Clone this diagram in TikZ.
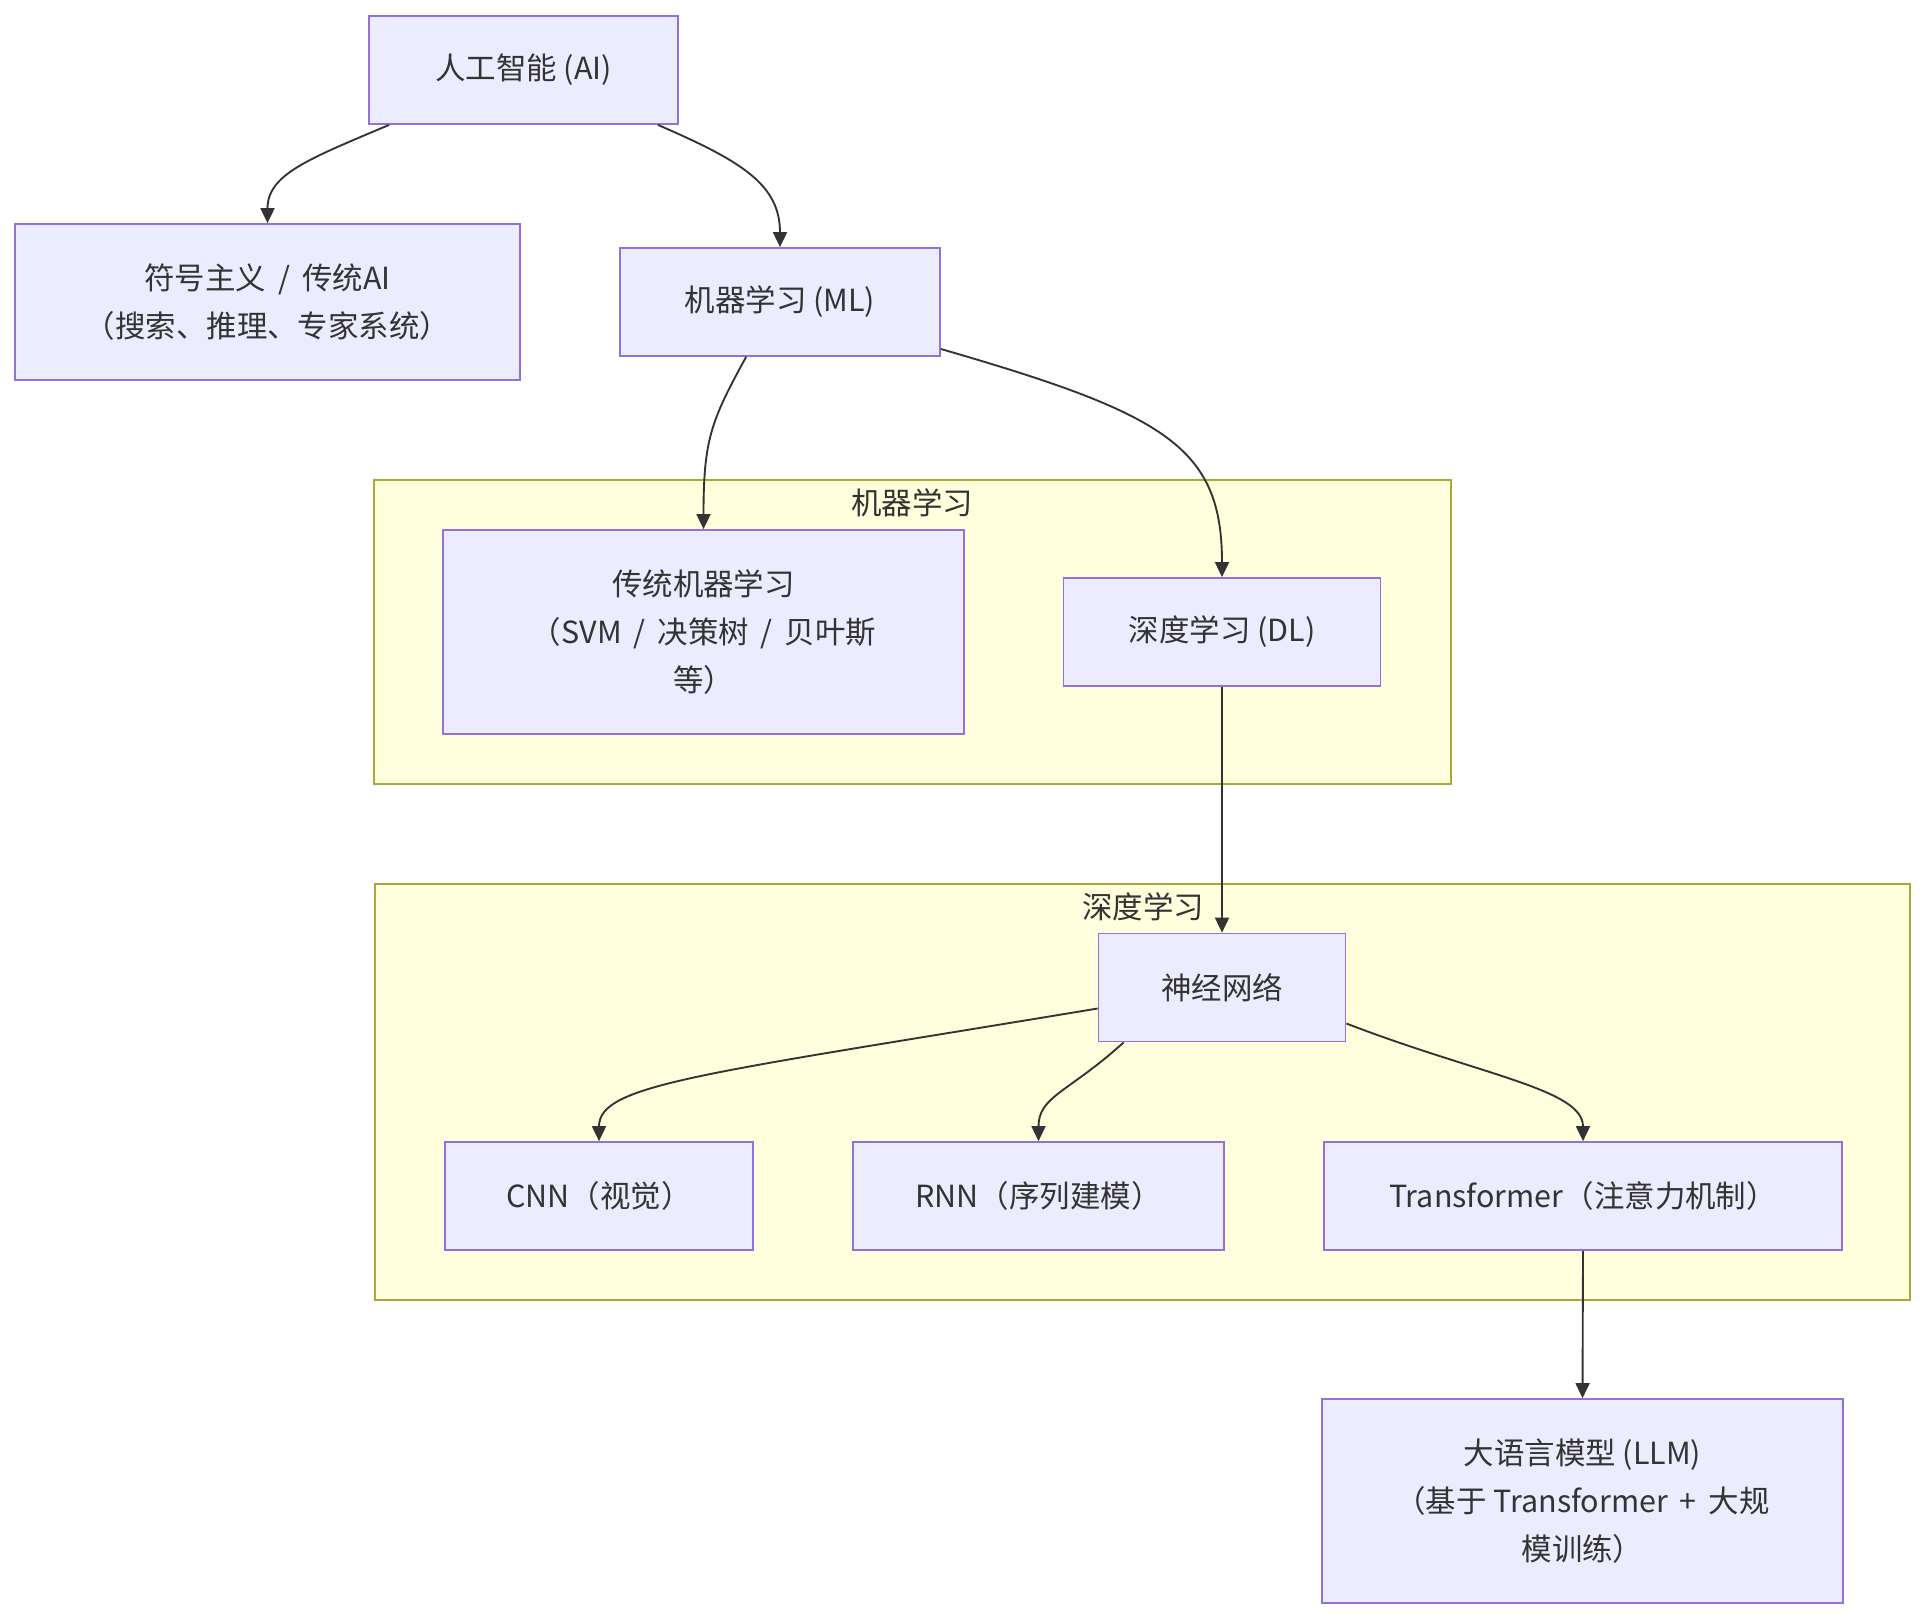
\documentclass[tikz,border=0pt]{standalone}
\usepackage{fontspec}
\setmainfont{Noto Sans CJK SC}
\usetikzlibrary{arrows.meta,calc}
\definecolor{nodefill}{HTML}{ECECFF}
\definecolor{nodeline}{HTML}{9370DB}
\definecolor{clusterfill}{HTML}{FFFFDE}
\definecolor{clusterline}{HTML}{AAAA33}
\definecolor{textcol}{HTML}{333333}

\begin{document}
\begin{tikzpicture}[x=0.03cm, y=-0.03cm, >={Triangle[length=0.45cm,width=0.42cm]},
  every node/.style={font=\fontsize{26}{41}\selectfont, text=textcol},
  box/.style={draw=nodeline, fill=nodefill, line width=1.5pt, rectangle, align=center, inner sep=0pt},
  cluster/.style={draw=clusterline, fill=clusterfill, line width=1.5pt},
  edge/.style={->, draw=textcol, line width=1.6pt}]
\useasboundingbox (0,0) rectangle (1927,1620);
\fill[white] (0,0) rectangle (1927,1620);

% subgraphs
\draw[cluster] (374,480) rectangle (1451,784);
\node (mltitle) at (912,503) {机器学习};
\draw[cluster] (375,884) rectangle (1910,1300);
\node (dltitle) at (1143,907) {深度学习};

\node[box, minimum width=9.27cm, minimum height=3.24cm] (ai) at (523.5,70) {人工智能 (AI)};
\node[box, minimum width=15.15cm, minimum height=4.68cm] (sym) at (267.5,302) {符号主义 \,/\, 传统AI\\（搜索、推理、专家系统）};
\node[box, minimum width=9.6cm, minimum height=3.24cm] (ml) at (780,302) {机器学习 (ML)};
\node[box, minimum width=15.63cm, minimum height=6.12cm] (trad) at (703.5,632) {传统机器学习\\（SVM \,/\, 决策树 \,/\, 贝叶斯\\等）};
\node[box, minimum width=9.51cm, minimum height=3.24cm] (dl) at (1222,632) {深度学习 (DL)};
\node[box, minimum width=7.41cm, minimum height=3.24cm] (nn) at (1222,987.5) {神经网络};
\node[box, minimum width=9.24cm, minimum height=3.24cm] (cnn) at (599,1196) {CNN（视觉）};
\node[box, minimum width=11.13cm, minimum height=3.24cm] (rnn) at (1038.5,1196) {RNN（序列建模）};
\node[box, minimum width=15.54cm, minimum height=3.24cm] (tf) at (1583,1196) {Transformer（注意力机制）};
\node[box, minimum width=15.63cm, minimum height=6.12cm] (llm) at (1582.5,1501) {大语言模型 (LLM)\\（基于 Transformer \,+\, 大规\\模训练）};

\draw[edge] ($(ai.south west)+(21,0)$) .. controls +(-80,34) and +(0,-49) .. (sym.north);
\draw[edge] ($(ai.south east)+(-21,0)$) .. controls +(83,36) and +(0,-63) .. (ml.north);
\draw[edge] ($(ml.south west)+(127,0)$) .. controls +(-35,64) and +(0,-90) .. (trad.north);
\draw[edge] ($(ml.east)+(0,47)$) .. controls +(225,65) and +(0,-130) .. (dl.north);
\draw[edge] (dl.south) -- (nn.north);
\draw[edge] ($(nn.west)+(0,21)$) .. controls +(-398,66) and +(0,-57) .. (cnn.north);
\draw[edge] ($(nn.south west)+(26,0)$) .. controls +(-55,50) and +(0,-45) .. (rnn.north);
\draw[edge] ($(nn.east)+(0,36)$) .. controls +(135,52) and +(0,-52) .. (tf.north);
\draw[edge] (tf.south) -- (llm.north);
\end{tikzpicture}
\end{document}
